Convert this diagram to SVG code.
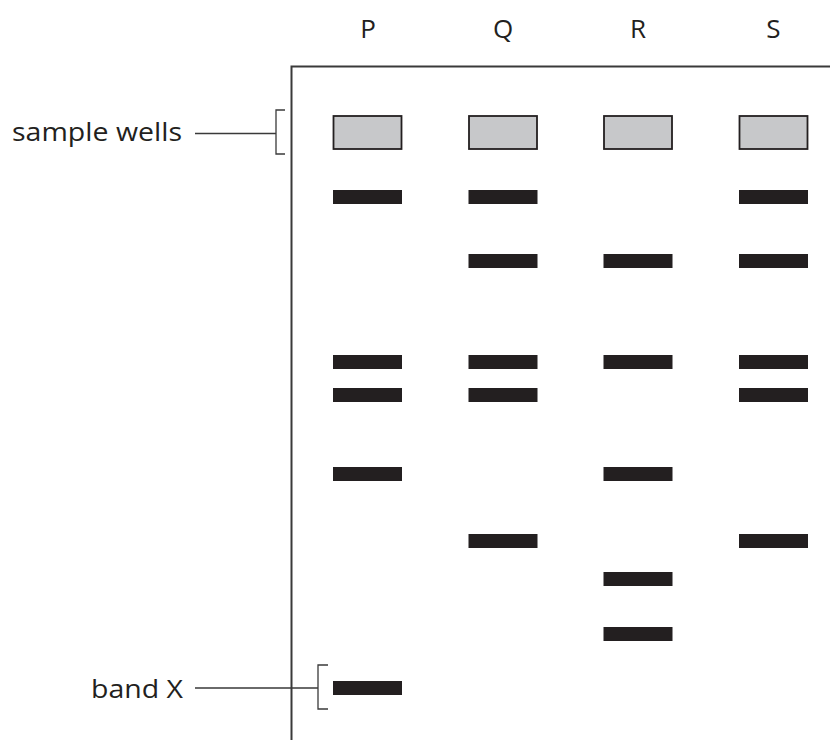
<svg xmlns="http://www.w3.org/2000/svg" width="830" height="740" viewBox="0 0 830 740">
<style>
.lbl{font-family:"Open Sans","Liberation Sans",sans-serif;font-size:26px;fill:#231f20}
.well{fill:#c7c8ca;stroke:#231f20;stroke-width:1.8}
.band{fill:#231f20}
.frame{fill:none;stroke:#3a3a3a;stroke-width:2}
.lead{fill:none;stroke:#3a3a3a;stroke-width:1.3}
</style>
<rect width="830" height="740" fill="#fff"/>
<g id="frame"><path class="frame" d="M291.5 740V66.5H830"/></g>
<g id="lane-labels">
<text class="lbl" x="368" y="38" text-anchor="middle">P</text>
<text class="lbl" x="503" y="38" text-anchor="middle">Q</text>
<text class="lbl" x="638" y="38" text-anchor="middle">R</text>
<text class="lbl" x="773.5" y="38" text-anchor="middle">S</text>
</g>
<g id="wells">
<rect class="well" x="333.5" y="116" width="68" height="33"/>
<rect class="well" x="469" y="116" width="68" height="33"/>
<rect class="well" x="604" y="116" width="68" height="33"/>
<rect class="well" x="739.5" y="116" width="68" height="33"/>
</g>
<g id="lane-P">
<rect class="band" x="333" y="190" width="69" height="14"/>
<rect class="band" x="333" y="355" width="69" height="14"/>
<rect class="band" x="333" y="388" width="69" height="14"/>
<rect class="band" x="333" y="467" width="69" height="14"/>
<rect class="band" x="333" y="681" width="69" height="14"/>
</g>
<g id="lane-Q">
<rect class="band" x="468.5" y="190" width="69" height="14"/>
<rect class="band" x="468.5" y="254" width="69" height="14"/>
<rect class="band" x="468.5" y="355" width="69" height="14"/>
<rect class="band" x="468.5" y="388" width="69" height="14"/>
<rect class="band" x="468.5" y="534" width="69" height="14"/>
</g>
<g id="lane-R">
<rect class="band" x="603.5" y="254" width="69" height="14"/>
<rect class="band" x="603.5" y="355" width="69" height="14"/>
<rect class="band" x="603.5" y="467" width="69" height="14"/>
<rect class="band" x="603.5" y="572" width="69" height="14"/>
<rect class="band" x="603.5" y="627" width="69" height="14"/>
</g>
<g id="lane-S">
<rect class="band" x="739" y="190" width="69" height="14"/>
<rect class="band" x="739" y="254" width="69" height="14"/>
<rect class="band" x="739" y="355" width="69" height="14"/>
<rect class="band" x="739" y="388" width="69" height="14"/>
<rect class="band" x="739" y="534" width="69" height="14"/>
</g>
<g id="label-sample-wells">
<text class="lbl" x="12" y="141" textLength="170" lengthAdjust="spacingAndGlyphs">sample wells</text>
</g>
<g id="label-band-x">
<text class="lbl" x="91" y="698" textLength="92" lengthAdjust="spacingAndGlyphs">band X</text>
</g>
<g id="connectors">
<path class="lead" d="M195 133.5H276M285 110H276V154H285"/>
<path class="lead" d="M195 688H318M328 665H318V709H328"/>
</g>
</svg>
